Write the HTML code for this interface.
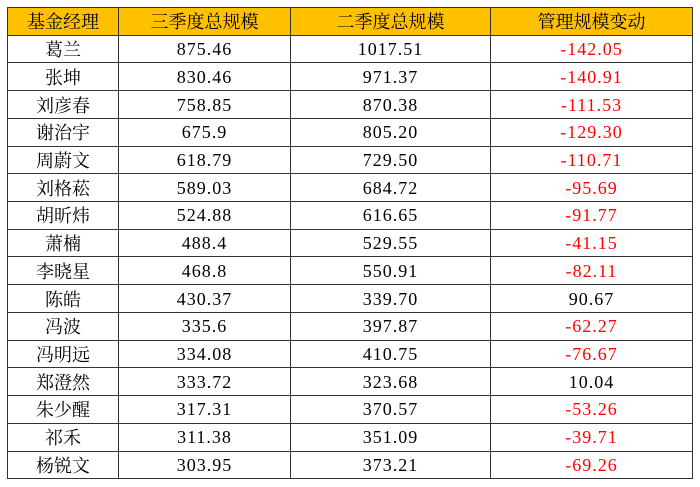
<!DOCTYPE html>
<html><head><meta charset="utf-8"><style>
body{margin:0;background:#fff;width:700px;height:487px;overflow:hidden;}
table{position:absolute;left:7px;top:7px;border-collapse:collapse;font-family:"Liberation Serif","Noto Serif CJK SC",serif;font-size:18px;letter-spacing:1px;color:#000;}
td{border:1.5px solid #333;text-align:center;height:26.72px;padding:0;line-height:26px;}
td.c{font-family:"Noto Serif CJK SC",serif;font-size:18px;letter-spacing:0;}
tr.h td{background:#FFC000;font-family:"Noto Serif CJK SC",serif;font-size:18px;letter-spacing:0;}
.r{color:#f00;}
</style></head><body>
<table>
<colgroup><col style="width:111px"><col style="width:172px"><col style="width:200px"><col style="width:202px"></colgroup>
<tr class="h"><td>基金经理</td><td>三季度总规模</td><td>二季度总规模</td><td>管理规模变动</td></tr>
<tr><td class="c">葛兰</td><td>875.46</td><td>1017.51</td><td class="r">-142.05</td></tr>
<tr><td class="c">张坤</td><td>830.46</td><td>971.37</td><td class="r">-140.91</td></tr>
<tr><td class="c">刘彦春</td><td>758.85</td><td>870.38</td><td class="r">-111.53</td></tr>
<tr><td class="c">谢治宇</td><td>675.9</td><td>805.20</td><td class="r">-129.30</td></tr>
<tr><td class="c">周蔚文</td><td>618.79</td><td>729.50</td><td class="r">-110.71</td></tr>
<tr><td class="c">刘格菘</td><td>589.03</td><td>684.72</td><td class="r">-95.69</td></tr>
<tr><td class="c">胡昕炜</td><td>524.88</td><td>616.65</td><td class="r">-91.77</td></tr>
<tr><td class="c">萧楠</td><td>488.4</td><td>529.55</td><td class="r">-41.15</td></tr>
<tr><td class="c">李晓星</td><td>468.8</td><td>550.91</td><td class="r">-82.11</td></tr>
<tr><td class="c">陈皓</td><td>430.37</td><td>339.70</td><td>90.67</td></tr>
<tr><td class="c">冯波</td><td>335.6</td><td>397.87</td><td class="r">-62.27</td></tr>
<tr><td class="c">冯明远</td><td>334.08</td><td>410.75</td><td class="r">-76.67</td></tr>
<tr><td class="c">郑澄然</td><td>333.72</td><td>323.68</td><td>10.04</td></tr>
<tr><td class="c">朱少醒</td><td>317.31</td><td>370.57</td><td class="r">-53.26</td></tr>
<tr><td class="c">祁禾</td><td>311.38</td><td>351.09</td><td class="r">-39.71</td></tr>
<tr><td class="c">杨锐文</td><td>303.95</td><td>373.21</td><td class="r">-69.26</td></tr>
</table>
</body></html>
